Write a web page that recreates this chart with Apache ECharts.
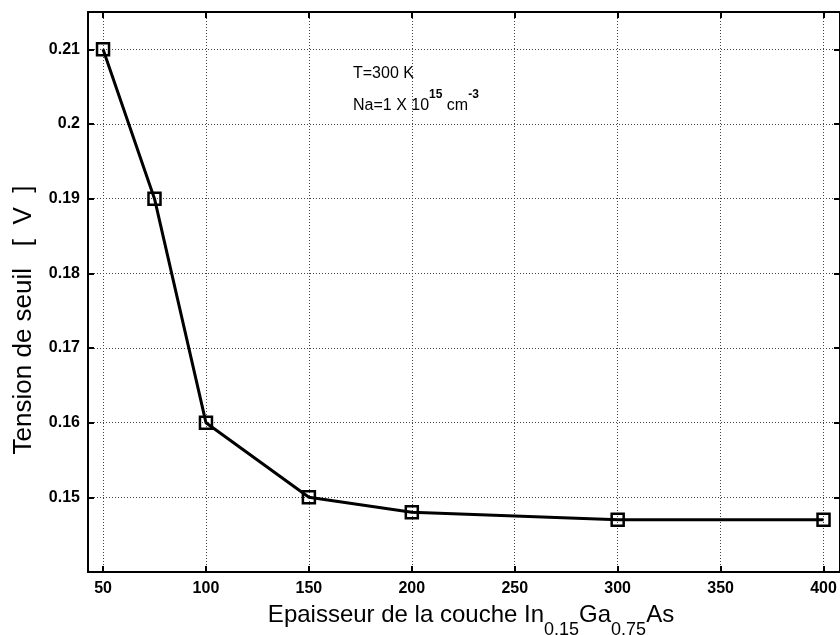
<!DOCTYPE html>
<html>
<head>
<meta charset="utf-8">
<script src="https://cdn.jsdelivr.net/npm/echarts@6/dist/echarts.min.js"></script>
<style>html,body{margin:0;padding:0;background:#fff}#c{width:840px;height:635px}</style>
</head>
<body>
<div id="c"></div>
<script>
var thickness = [50, 75, 100, 150, 200, 300, 400];
var threshold = [0.21, 0.19, 0.16, 0.15, 0.148, 0.147, 0.147];
var xTicks = [50, 100, 150, 200, 250, 300, 350, 400];
var yTicks = [0.15, 0.16, 0.17, 0.18, 0.19, 0.2, 0.21];

var chart = echarts.init(document.getElementById('c'), null, {renderer: 'canvas'});
var font = 'Liberation Sans, Arial, sans-serif';
var frameLine = {show: true, onZero: false, lineStyle: {color: '#000', width: 2}};
var tickStyle = {show: true, inside: true, length: 6, lineStyle: {color: '#000', width: 2}};
var grid = {show: true, lineStyle: {color: '#444', width: 1, type: [1, 2]}};

var option = {
  animation: false,
  backgroundColor: '#fff',
  grid: {left: 88, top: 12, right: -1, bottom: 63, containLabel: false},
  xAxis: [{
    type: 'value', min: 42.7, max: 408, position: 'bottom',
    axisLine: frameLine,
    axisTick: Object.assign({customValues: xTicks}, tickStyle),
    axisLabel: {customValues: xTicks, color: '#000', fontFamily: font, fontWeight: 'bold', fontSize: 16, margin: 9},
    splitLine: grid
  }, {
    type: 'value', min: 42.7, max: 408, position: 'top',
    axisLine: frameLine,
    axisTick: Object.assign({customValues: xTicks}, tickStyle),
    axisLabel: {show: false},
    splitLine: {show: false}
  }],
  yAxis: [{
    type: 'value', min: 0.14, max: 0.215, position: 'left',
    axisLine: frameLine,
    axisTick: Object.assign({customValues: yTicks}, tickStyle),
    axisLabel: {customValues: yTicks, color: '#000', fontFamily: font, fontWeight: 'bold', fontSize: 16, margin: 8},
    splitLine: grid
  }, {
    type: 'value', min: 0.14, max: 0.215, position: 'right',
    axisLine: frameLine,
    axisTick: Object.assign({customValues: yTicks}, tickStyle),
    axisLabel: {show: false},
    splitLine: {show: false}
  }],
  graphic: [{
    type: 'text', x: 471, y: 603,
    style: {
      text: '{a|Epaisseur de la couche In}{b|0.15}{a|Ga}{b|0.75}{a|As}',
      align: 'center', verticalAlign: 'top',
      rich: {
        a: {fontFamily: font, fontSize: 24, fill: '#000', verticalAlign: 'top', lineHeight: 36},
        b: {fontFamily: font, fontSize: 18, fill: '#000', verticalAlign: 'bottom', lineHeight: 36}
      }
    }
  }, {
    type: 'text', x: 24, y: 320, rotation: Math.PI / 2,
    style: {
      text: 'Tension de seuil   [  V  ]',
      align: 'center', verticalAlign: 'middle',
      fontFamily: font, fontSize: 26, fill: '#000'
    }
  }, {
    type: 'text', left: 353, top: 66,
    style: {text: 'T=300 K', fontFamily: font, fontSize: 16, fill: '#000'}
  }, {
    type: 'text', left: 353, top: 89,
    style: {
      text: '{n|Na=1 X 10}{s|15}{n| cm}{s|-3}',
      rich: {
        n: {fontFamily: font, fontSize: 16, fill: '#000', verticalAlign: 'bottom', lineHeight: 25},
        s: {fontFamily: font, fontSize: 12, fontWeight: 'bold', fill: '#000', verticalAlign: 'top', lineHeight: 25}
      }
    }
  }],
  series: [{
    type: 'line',
    xAxisIndex: 0, yAxisIndex: 0,
    data: thickness.map(function (x, i) { return [x, threshold[i]]; }),
    symbol: 'rect', symbolSize: 12, showSymbol: true,
    lineStyle: {color: '#000', width: 3},
    itemStyle: {color: 'rgba(0,0,0,0)', borderColor: '#000', borderWidth: 2.5},
    emphasis: {disabled: true},
    z: 5
  }]
};
chart.setOption(option);
</script>
</body>
</html>
